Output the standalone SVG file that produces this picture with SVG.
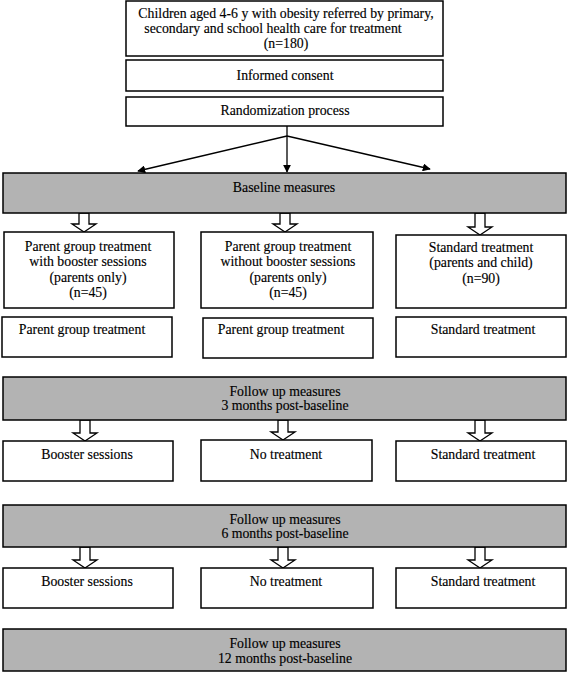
<svg xmlns="http://www.w3.org/2000/svg" width="567" height="673" viewBox="0 0 567 673">
<style>
.box{fill:#fff;stroke:#000;stroke-width:1.5}
.gray{fill:#b3b3b3;stroke:#000;stroke-width:1.5}
.t{font-family:"Liberation Serif","Times New Roman",serif;font-size:13.8px;fill:#000;text-anchor:middle;stroke:#000;stroke-width:0.15}
.ha{fill:#fff;stroke:#000;stroke-width:1.3;stroke-linejoin:miter}
.ln{stroke:#000;stroke-width:1.3;fill:none}
</style>
<defs>
<marker id="ah" viewBox="0 0 10 10" refX="9" refY="5" markerWidth="8" markerHeight="8" markerUnits="userSpaceOnUse" orient="auto">
<path d="M0,0 L10,5 L0,10 Z" fill="#000"/>
</marker>
</defs>
<rect width="567" height="673" fill="#fff"/>
<g id="connectors">
<path class="ln" d="M287,126 V136"/>
<path class="ln" d="M287,136 L138,171" marker-end="url(#ah)"/>
<path class="ln" d="M287,136 V172" marker-end="url(#ah)"/>
<path class="ln" d="M287,136 L430,169" marker-end="url(#ah)"/>
<polygon class="ha" points="79,213 89,213 89,224 96,224 84,232 72,224 79,224"/>
<polygon class="ha" points="280,213 290,213 290,224 297,224 285,232 273,224 280,224"/>
<polygon class="ha" points="475,213 485,213 485,227 492,227 480,235 468,227 475,227"/>
<polygon class="ha" points="80,420 90,420 90,433 97,433 85,441 73,433 80,433"/>
<polygon class="ha" points="278,420 288,420 288,432 295,432 283,440 271,432 278,432"/>
<polygon class="ha" points="475,420 485,420 485,433 492,433 480,441 468,433 475,433"/>
<polygon class="ha" points="80,547 90,547 90,560 97,560 85,568 73,560 80,560"/>
<polygon class="ha" points="278,547 288,547 288,560 295,560 283,568 271,560 278,560"/>
<polygon class="ha" points="475,547 485,547 485,560 492,560 480,568 468,560 475,560"/>
</g>
<g id="n_referred">
<rect class="box" x="126" y="1" width="317" height="55"/>
<text class="t" x="286" y="18">Children aged 4-6 y with obesity referred by primary,</text>
<text class="t" x="273" y="33">secondary and school health care for treatment</text>
<text class="t" x="286" y="48">(n=180)</text>
</g>
<g id="n_consent">
<rect class="box" x="126" y="60" width="317" height="31"/>
<text class="t" x="285" y="80">Informed consent</text>
</g>
<g id="n_random">
<rect class="box" x="126" y="97" width="317" height="29"/>
<text class="t" x="285" y="115">Randomization process</text>
</g>
<g id="n_baseline">
<rect class="gray" x="3" y="173" width="563" height="40"/>
<text class="t" x="284" y="192">Baseline measures</text>
</g>
<g id="n_pg_booster">
<rect class="box" x="4" y="232" width="170" height="76"/>
<text class="t" x="88" y="251">Parent group treatment</text>
<text class="t" x="88" y="266">with booster sessions</text>
<text class="t" x="88" y="282">(parents only)</text>
<text class="t" x="88" y="297">(n=45)</text>
</g>
<g id="n_pg_nobooster">
<rect class="box" x="201" y="232" width="172" height="76"/>
<text class="t" x="288" y="251">Parent group treatment</text>
<text class="t" x="288" y="266">without booster sessions</text>
<text class="t" x="288" y="282">(parents only)</text>
<text class="t" x="288" y="297">(n=45)</text>
</g>
<g id="n_standard">
<rect class="box" x="396" y="235" width="170" height="73"/>
<text class="t" x="481" y="252">Standard treatment</text>
<text class="t" x="481" y="267">(parents and child)</text>
<text class="t" x="481" y="283">(n=90)</text>
</g>
<g id="n_pgt1">
<rect class="box" x="2" y="317" width="170" height="40"/>
<text class="t" x="82" y="334">Parent group treatment</text>
</g>
<g id="n_pgt2">
<rect class="box" x="203" y="318" width="170" height="40"/>
<text class="t" x="281" y="334">Parent group treatment</text>
</g>
<g id="n_st1">
<rect class="box" x="396" y="317" width="170" height="40"/>
<text class="t" x="483" y="334">Standard treatment</text>
</g>
<g id="n_fu3">
<rect class="gray" x="3" y="377" width="563" height="43"/>
<text class="t" x="285" y="396">Follow up measures</text>
<text class="t" x="285" y="410">3 months post-baseline</text>
</g>
<g id="n_boost3">
<rect class="box" x="3" y="441" width="170" height="40"/>
<text class="t" x="87" y="459">Booster sessions</text>
</g>
<g id="n_none3">
<rect class="box" x="201" y="440" width="171" height="41"/>
<text class="t" x="286" y="459">No treatment</text>
</g>
<g id="n_st3">
<rect class="box" x="396" y="441" width="170" height="40"/>
<text class="t" x="483" y="459">Standard treatment</text>
</g>
<g id="n_fu6">
<rect class="gray" x="3" y="505" width="563" height="42"/>
<text class="t" x="285" y="524">Follow up measures</text>
<text class="t" x="285" y="538">6 months post-baseline</text>
</g>
<g id="n_boost6">
<rect class="box" x="3" y="568" width="170" height="40"/>
<text class="t" x="87" y="586">Booster sessions</text>
</g>
<g id="n_none6">
<rect class="box" x="201" y="568" width="172" height="40"/>
<text class="t" x="286" y="586">No treatment</text>
</g>
<g id="n_st6">
<rect class="box" x="396" y="568" width="170" height="40"/>
<text class="t" x="483" y="586">Standard treatment</text>
</g>
<g id="n_fu12">
<rect class="gray" x="3" y="629" width="563" height="42"/>
<text class="t" x="285" y="648">Follow up measures</text>
<text class="t" x="285" y="663">12 months post-baseline</text>
</g>
</svg>
